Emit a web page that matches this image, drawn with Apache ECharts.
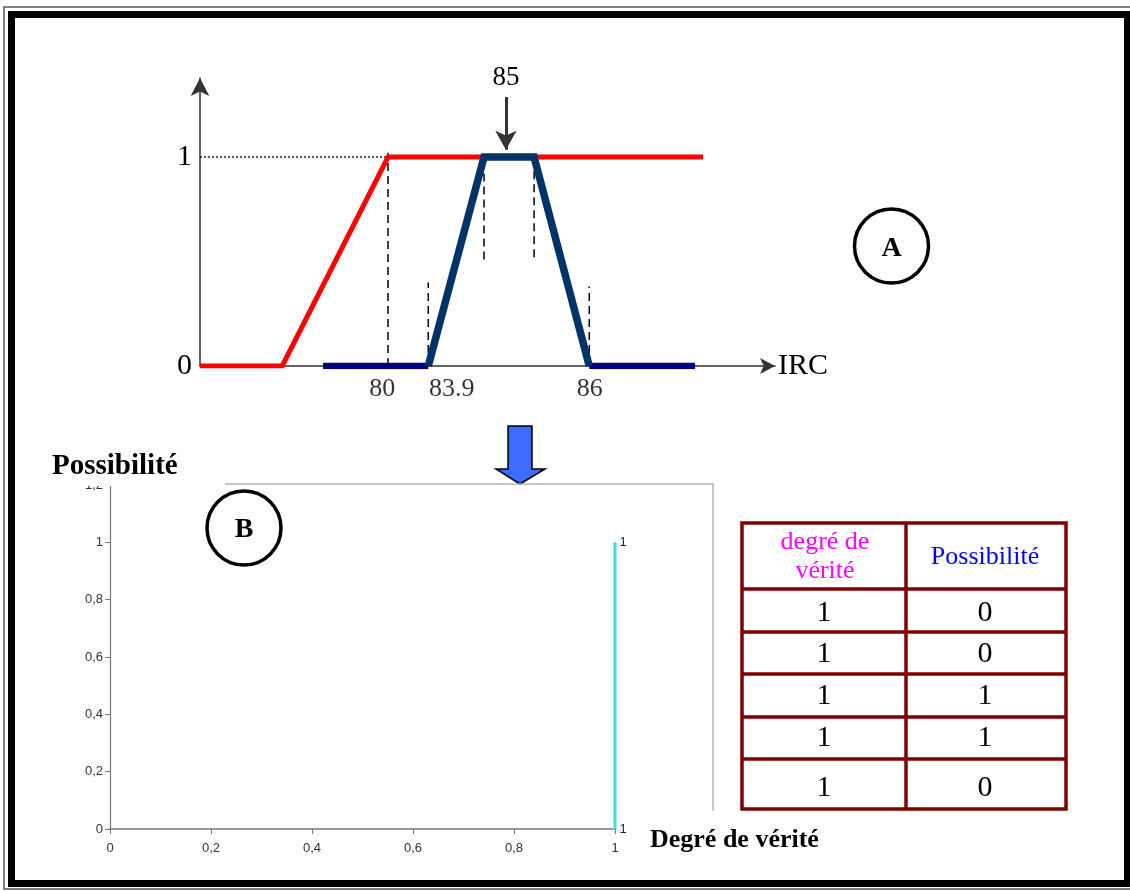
<!DOCTYPE html>
<html><head><meta charset="utf-8">
<script src="https://cdn.jsdelivr.net/npm/echarts@6/dist/echarts.min.js"></script>
<style>html,body{margin:0;padding:0;background:#fff}#c{width:1130px;height:891px}</style>
</head><body><div id="c"></div>
<script>
// ---------- Chart A (schematic IRC axis, 0..100 schematic units) ----------
const redX = [0, 14.3, 32.7, 87.5];
const redY = [0, 0, 1, 1];
const trapX = [39.7, 49.4, 58.1, 67.7];
const trapY = [0, 1, 1, 0];
const baseLeftX = [21.4, 39.7];
const baseRightX = [67.7, 86.1];
const dashX = [32.7, 39.7, 49.4, 58.1, 67.7];
const dashFrom = [0, 0, 0.51, 0.52, 0];
const dashTo = [1.02, 0.40, 0.97, 0.97, 0.38];
const ircLabels = ['80', '83.9', '86'];
const ircLabelX = [31.7, 43.8, 67.8];
const markerLabel = '85';
const markerX = 53.2;
const yTicksA = [0, 1];
// ---------- Chart B ----------
const degreVerite = [1, 1];
const possibiliteB = [0, 1];
const ticksB = [0, 0.2, 0.4, 0.6, 0.8, 1, 1.2];
// ---------- Table ----------
const tableHeader = ['degré de\nvérité', 'Possibilité'];
const tableDegre = [1, 1, 1, 1, 1];
const tablePoss = [0, 0, 1, 1, 0];

const SERIF = '"Liberation Serif", "DejaVu Serif", serif';
const SANS = '"Liberation Sans", Arial, sans-serif';
const zip = (xs, ys) => xs.map((x, i) => [x, ys[i]]);

const chart = echarts.init(document.getElementById('c'), null, {renderer: 'canvas'});

const series = [];
series.push({type: 'line', xAxisIndex: 0, yAxisIndex: 0, showSymbol: false, silent: true,
  data: [[0, 1], [dashX[0], 1]], lineStyle: {color: '#000', width: 1.3, type: [2, 2]}, z: 2});
dashX.forEach((x, i) => series.push({type: 'line', xAxisIndex: 0, yAxisIndex: 0, showSymbol: false, silent: true,
  data: [[x, dashFrom[i]], [x, dashTo[i]]], lineStyle: {color: '#000', width: 1.5, type: [8, 5]}, z: 2}));
series.push({type: 'line', xAxisIndex: 0, yAxisIndex: 0, showSymbol: false, silent: true,
  data: zip(redX, redY), lineStyle: {color: '#ff0000', width: 5, join: 'miter'}, z: 3});
[baseLeftX, baseRightX].forEach(seg => series.push({type: 'line', xAxisIndex: 0, yAxisIndex: 0, showSymbol: false, silent: true,
  data: seg.map(x => [x, 0]), lineStyle: {color: '#000080', width: 6.5, cap: 'butt'}, z: 4}));
series.push({type: 'line', xAxisIndex: 0, yAxisIndex: 0, showSymbol: false, silent: true,
  data: zip(trapX, trapY), lineStyle: {color: '#003366', width: 7.5, join: 'miter', cap: 'butt'}, z: 5,
  markLine: {silent: true, symbol: ['none', 'arrow'], symbolSize: [16, 19], animation: false,
    lineStyle: {color: '#333', width: 3, type: 'solid'},
    label: {show: true, position: 'start', formatter: markerLabel, fontFamily: SERIF, fontSize: 27, color: '#000', distance: 6},
    data: [[{coord: [markerX, 1.287]}, {coord: [markerX, 1.035]}]]}});
series.push({type: 'scatter', xAxisIndex: 0, yAxisIndex: 0, clip: false, silent: true, symbolSize: 1,
  itemStyle: {color: 'rgba(0,0,0,0)'},
  data: ircLabels.map((t, i) => ({value: [ircLabelX[i], -0.11], name: t})),
  label: {show: true, position: 'inside', formatter: p => p.name, fontFamily: SERIF, fontSize: 26, color: '#000'}});
series.push({type: 'line', xAxisIndex: 1, yAxisIndex: 1, clip: false, silent: true, symbol: 'circle', symbolSize: 1,
  data: zip(degreVerite, possibiliteB),
  itemStyle: {color: 'rgba(0,0,0,0)'},
  lineStyle: {color: '#3ae0e0', width: 3},
  label: {show: true, position: 'right', distance: 4, formatter: p => String(p.value[0]), fontFamily: SANS, fontSize: 13, color: '#222'}, z: 5});

const fmtB = v => (+v.toFixed(1)).toString().replace('.', ',');

const g = [];
g.push({type: 'rect', silent: true, shape: {x: 4, y: 7, width: 1135, height: 882}, style: {fill: 'none', stroke: '#555', lineWidth: 1.5}});
g.push({type: 'rect', silent: true, shape: {x: 11.5, y: 14.5, width: 1116, height: 869}, style: {fill: 'none', stroke: '#000', lineWidth: 7}});
g.push({type: 'circle', silent: true, shape: {cx: 891.5, cy: 246, r: 37}, style: {fill: '#fff', stroke: '#000', lineWidth: 3.5}});
g.push({type: 'text', silent: true, x: 891.5, y: 249, style: {text: 'A', font: 'bold 28px ' + SERIF, fill: '#000', align: 'center', verticalAlign: 'middle'}});
g.push({type: 'circle', silent: true, shape: {cx: 244, cy: 528, r: 37}, style: {fill: '#fff', stroke: '#000', lineWidth: 3.5}});
g.push({type: 'text', silent: true, x: 244, y: 530, style: {text: 'B', font: 'bold 28px ' + SERIF, fill: '#000', align: 'center', verticalAlign: 'middle'}});
g.push({type: 'polygon', silent: true, shape: {points: [[508, 426], [532, 426], [532, 469], [545, 469], [520, 484], [496, 469], [508, 469]]},
  style: {fill: '#3a6cff', stroke: '#000', lineWidth: 1.5}});
g.push({type: 'polyline', silent: true, shape: {points: [[225, 484], [713, 484], [713, 811]]}, style: {stroke: '#b4b4b4', lineWidth: 1.5, fill: 'none'}});
g.push({type: 'rect', silent: true, z: 100, shape: {x: 40, y: 448, width: 180, height: 38}, style: {fill: '#fff'}});
g.push({type: 'text', silent: true, z: 101, x: 52, y: 467, style: {text: 'Possibilité', font: 'bold 29px ' + SERIF, fill: '#000', verticalAlign: 'middle'}});
g.push({type: 'text', silent: true, x: 650, y: 840, style: {text: 'Degré de vérité', font: 'bold 26px ' + SERIF, fill: '#000', verticalAlign: 'middle'}});
const TX0 = 742, TX1 = 906, TX2 = 1066, TY0 = 523, TY1 = 809;
const rowLines = [589, 632, 674, 717, 759];
const rowCenters = [613, 654, 696, 738, 788];
g.push({type: 'rect', silent: true, shape: {x: TX0, y: TY0, width: TX2 - TX0, height: TY1 - TY0}, style: {fill: '#fff', stroke: '#800000', lineWidth: 3.5}});
g.push({type: 'line', silent: true, shape: {x1: TX1, y1: TY0, x2: TX1, y2: TY1}, style: {stroke: '#800000', lineWidth: 3.5}});
rowLines.forEach(y => g.push({type: 'line', silent: true, shape: {x1: TX0, y1: y, x2: TX2, y2: y}, style: {stroke: '#800000', lineWidth: 3.5}}));
g.push({type: 'text', silent: true, x: (TX0 + TX1) / 2 + 1, y: 557, style: {text: tableHeader[0], font: '26px ' + SERIF, lineHeight: 29, fill: '#ff00ff', align: 'center', verticalAlign: 'middle'}});
g.push({type: 'text', silent: true, x: (TX1 + TX2) / 2 - 1, y: 557, style: {text: tableHeader[1], font: '26px ' + SERIF, fill: '#0000ff', align: 'center', verticalAlign: 'middle'}});
tableDegre.forEach((v, i) => {
  g.push({type: 'text', silent: true, x: 824, y: rowCenters[i], style: {text: String(v), font: '30px ' + SERIF, fill: '#000', align: 'center', verticalAlign: 'middle'}});
  g.push({type: 'text', silent: true, x: 985, y: rowCenters[i], style: {text: String(tablePoss[i]), font: '30px ' + SERIF, fill: '#000', align: 'center', verticalAlign: 'middle'}});
});

chart.setOption({
  animation: false,
  backgroundColor: '#fff',
  grid: [
    {left: 200, top: 78, width: 575, height: 288},
    {left: 110, top: 485, width: 505, height: 344}
  ],
  xAxis: [
    {type: 'value', gridIndex: 0, min: 0, max: 100, splitLine: {show: false},
      axisLine: {show: true, onZero: true, symbol: ['none', 'arrow'], symbolSize: [12, 15], lineStyle: {color: '#333', width: 1.5}},
      axisTick: {show: false}, axisLabel: {show: false},
      name: 'IRC', nameLocation: 'end', nameGap: 3, nameTextStyle: {fontFamily: SERIF, fontSize: 30, color: '#000', verticalAlign: 'middle'}},
    {type: 'value', gridIndex: 1, min: 0, max: 1, interval: 0.2, splitLine: {show: false},
      axisLine: {show: true, lineStyle: {color: '#777', width: 1.5}},
      axisTick: {show: true, length: 5, lineStyle: {color: '#777'}},
      axisLabel: {formatter: fmtB, fontFamily: SANS, fontSize: 13, color: '#333', margin: 13}}
  ],
  yAxis: [
    {type: 'value', gridIndex: 0, min: 0, max: 288 / 209, splitLine: {show: false},
      axisLine: {show: true, symbol: ['none', 'arrow'], symbolSize: [14, 18], lineStyle: {color: '#333', width: 1.5}},
      axisTick: {show: false},
      axisLabel: {customValues: yTicksA, fontFamily: SERIF, fontSize: 30, color: '#000', margin: 8}},
    {type: 'value', gridIndex: 1, min: 0, max: 1.2, interval: 0.2, splitLine: {show: false},
      axisLine: {show: true, lineStyle: {color: '#777', width: 1.2}},
      axisTick: {show: true, length: 5, lineStyle: {color: '#777'}},
      axisLabel: {formatter: fmtB, fontFamily: SANS, fontSize: 13, color: '#333', margin: 7}}
  ],
  series: series,
  graphic: {elements: g}
});
</script></body></html>
